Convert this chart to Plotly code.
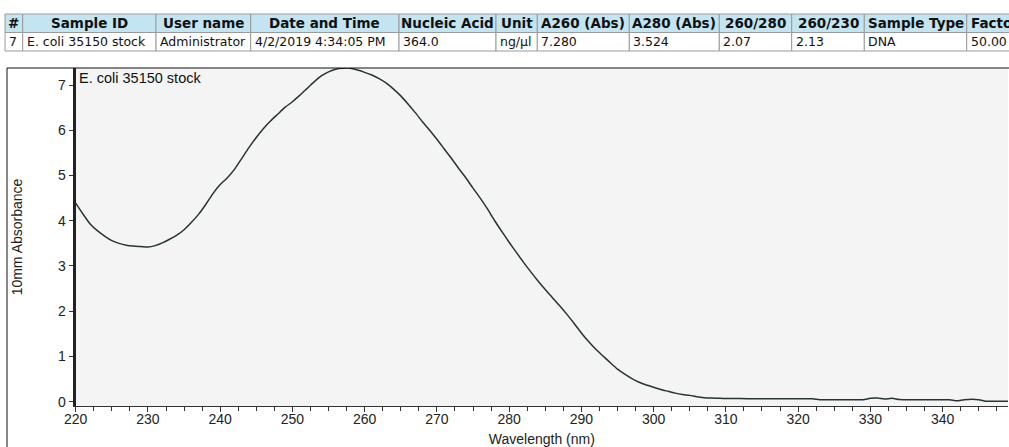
import plotly.graph_objects as go

# ---- sample summary table ----
table_headers = ["#", "Sample ID", "User name", "Date and Time", "Nucleic Acid", "Unit",
                 "A260 (Abs)", "A280 (Abs)", "260/280", "260/230", "Sample Type", "Factor"]
table_values = ["7", "E. coli 35150 stock", "Administrator", "4/2/2019 4:34:05 PM", "364.0", "ng/µl",
                "7.280", "3.524", "2.07", "2.13", "DNA", "50.00"]

# ---- absorbance spectrum ----
sample_name = "E. coli 35150 stock"
wavelength_nm = [
    220, 221, 222, 223, 224, 225, 226, 227, 228, 229, 230, 231, 232, 233, 234, 235, 236, 237, 238, 239,
    240, 241, 242, 243, 244, 245, 246, 247, 248, 249, 250, 251, 252, 253, 254, 255, 256, 257, 258, 259,
    260, 261, 262, 263, 264, 265, 266, 267, 268, 269, 270, 271, 272, 273, 274, 275, 276, 277, 278, 279,
    280, 281, 282, 283, 284, 285, 286, 287, 288, 289, 290, 291, 292, 293, 294, 295, 296, 297, 298, 299,
    300, 301, 302, 303, 304, 305, 306, 307, 308, 309, 310, 312, 314, 316, 318, 320, 322, 323, 325, 327,
    329, 330, 331, 332, 333, 334, 336, 338, 340, 341, 342, 343, 345, 346, 348, 350,
]
absorbance_10mm = [
    4.39, 4.15, 3.93, 3.78, 3.66, 3.56, 3.50, 3.46, 3.44, 3.43, 3.42, 3.45, 3.51, 3.59, 3.68, 3.80, 3.96, 4.14, 4.36, 4.60,
    4.80, 4.95, 5.14, 5.38, 5.62, 5.84, 6.04, 6.21, 6.36, 6.51, 6.63, 6.77, 6.92, 7.07, 7.20, 7.29, 7.35, 7.37, 7.37, 7.33,
    7.28, 7.22, 7.14, 7.04, 6.91, 6.76, 6.58, 6.39, 6.19, 6.00, 5.80, 5.59, 5.38, 5.16, 4.95, 4.72, 4.50, 4.26, 4.00, 3.76,
    3.524, 3.30, 3.08, 2.87, 2.67, 2.48, 2.30, 2.12, 1.93, 1.73, 1.52, 1.33, 1.16, 1.01, 0.86, 0.72, 0.61, 0.51, 0.43, 0.37,
    0.32, 0.27, 0.23, 0.19, 0.16, 0.14, 0.11, 0.09, 0.08, 0.075, 0.07, 0.07, 0.065, 0.065, 0.065, 0.065, 0.065, 0.045, 0.045, 0.045,
    0.045, 0.075, 0.08, 0.06, 0.075, 0.05, 0.045, 0.045, 0.045, 0.045, 0.02, 0.045, 0.045, 0.01, 0.01, 0.01,
]

W, H = 1009, 447


def px(x):
    return x / W


def py(y):
    return 1 - y / H


fig = go.Figure()
fig.add_trace(go.Scatter(
    x=wavelength_nm, y=absorbance_10mm, mode="lines",
    line=dict(color="#263434", width=1.5, shape="spline", smoothing=0.6),
    showlegend=False, hoverinfo="x+y",
))

shapes = []
annotations = []

# table grid
col_edges = [5, 22.7, 156, 250.7, 399, 496, 537.3, 629.3, 719.3, 791.7, 864.3, 966.7, 1060]
row_top, row_mid, row_bot = 14, 32.5, 51
border = "#9a9a9a"
for i in range(len(table_headers)):
    x0, x1 = col_edges[i], col_edges[i + 1]
    last = i == len(table_headers) - 1
    shapes.append(dict(type="rect", xref="paper", yref="paper",
                       x0=px(x0), x1=px(x1), y0=py(row_mid), y1=py(row_top),
                       fillcolor="#c3e4f1", line=dict(color=border, width=1), layer="below"))
    shapes.append(dict(type="rect", xref="paper", yref="paper",
                       x0=px(x0), x1=px(x1), y0=py(row_bot), y1=py(row_mid),
                       fillcolor="white", line=dict(color=border, width=1), layer="below"))
    annotations.append(dict(
        text="<b>%s</b>" % table_headers[i], xref="paper", yref="paper",
        x=px(x0 + 2 if last else (x0 + x1) / 2), y=py((row_top + row_mid) / 2), showarrow=False,
        xanchor="left" if last else "center", yanchor="middle",
        font=dict(family="DejaVu Sans", size=13.5, color="#111111")))
    annotations.append(dict(
        text=table_values[i], xref="paper", yref="paper",
        x=px(x0 + 2), y=py((row_mid + row_bot) / 2), showarrow=False,
        xanchor="left", yanchor="middle",
        font=dict(family="DejaVu Sans", size=12.5, color="#111111")))

# chart frame
shapes.append(dict(type="line", xref="paper", yref="paper",
                   x0=px(7), x1=px(1009), y0=py(68), y1=py(68), line=dict(color="#111111", width=1)))
shapes.append(dict(type="line", xref="paper", yref="paper",
                   x0=px(7), x1=px(7), y0=py(68), y1=0, line=dict(color="#111111", width=1)))

annotations.append(dict(
    text=sample_name, xref="paper", yref="paper", x=px(77), y=py(68.5),
    xanchor="left", yanchor="top", showarrow=False,
    font=dict(family="Liberation Sans", size=14.5, color="#111111")))

tick_font = dict(family="Liberation Sans", size=14, color="#222222")
fig.update_layout(
    width=W, height=H,
    margin=dict(l=0, r=0, t=0, b=0),
    paper_bgcolor="white",
    plot_bgcolor="#f4f4f4",
    shapes=shapes,
    annotations=annotations,
    xaxis=dict(
        domain=[px(75.7), px(1008)], range=[220, 349.06], automargin=False,
        tickmode="linear", tick0=220, dtick=10,
        ticks="outside", ticklen=5, tickcolor="#333333", ticklabelstandoff=-5,
        minor=dict(dtick=2.5, ticks="outside", ticklen=4, tickcolor="#333333"),
        showline=True, linecolor="#333333", linewidth=1,
        showgrid=False, zeroline=False, tickfont=tick_font,
        title=dict(text="Wavelength (nm)", font=tick_font, standoff=10),
    ),
    yaxis=dict(
        domain=[py(406), py(68)], range=[-0.095, 7.376], automargin=False,
        tickmode="linear", tick0=0, dtick=1,
        ticks="outside", ticklen=4, tickcolor="#333333",
        showline=True, linecolor="#222222", linewidth=3,
        showgrid=False, zeroline=False, tickfont=tick_font,
        title=dict(text="10mm Absorbance", font=tick_font, standoff=33),
    ),
)

fig.write_html("out.html")
